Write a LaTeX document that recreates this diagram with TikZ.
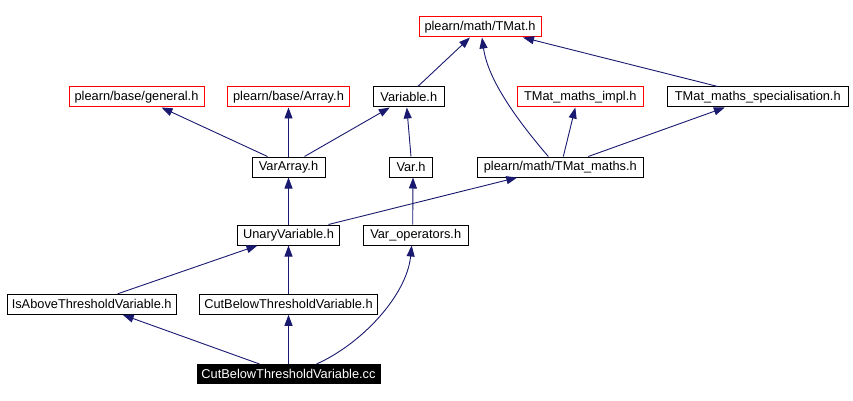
\documentclass[tikz,border=0pt]{standalone}
\usepackage{fontspec}
\setmainfont{Liberation Sans}
\usetikzlibrary{arrows.meta}
\definecolor{edgeblue}{RGB}{25,25,112}
\tikzset{
  box/.style={draw=black, line width=1pt, rectangle, inner sep=0pt, minimum height=20pt, font=\fontsize{12.8}{14}\selectfont},
  redbox/.style={box, draw=red},
  rootbox/.style={box, fill=black, text=white, minimum height=19pt},
  dep/.style={draw=edgeblue, line width=0.9pt, -{Triangle[length=11pt, width=8pt]}}
}
\begin{document}
\begin{tikzpicture}[x=1pt, y=-1pt]
\useasboundingbox (0,0) rectangle (853,401);
\node[redbox, minimum width=122pt] (tmat) at (480,27) {plearn/math/TMat.h};
\node[redbox, minimum width=135pt] (gen) at (136.5,97) {plearn/base/general.h};
\node[redbox, minimum width=122pt] (arr) at (288.5,97) {plearn/base/Array.h};
\node[box, minimum width=71pt] (variable) at (408.8,97) {Variable.h};
\node[redbox, minimum width=126pt] (impl) at (580.3,97) {TMat\_maths\_impl.h};
\node[box, minimum width=181pt] (spec) at (757.8,97) {TMat\_maths\_specialisation.h};
\node[box, minimum width=73pt] (vararr) at (288.5,167) {VarArray.h};
\node[box, minimum width=43pt] (varh) at (411,167) {Var.h};
\node[box, minimum width=166pt] (maths) at (560.3,167) {plearn/math/TMat\_maths.h};
\node[box, minimum width=102pt] (unary) at (288.5,235) {UnaryVariable.h};
\node[box, minimum width=105pt] (varops) at (415.7,235) {Var\_operators.h};
\node[box, minimum width=169pt] (isabove) at (91.7,304.3) {IsAboveThresholdVariable.h};
\node[box, minimum width=178pt] (cbh) at (288.5,304.3) {CutBelowThresholdVariable.h};
\node[rootbox, minimum width=183pt] (cc) at (288.5,374) {CutBelowThresholdVariable.cc};

\draw[dep] ([xshift=9pt]variable.north) -- ([xshift=-10pt]tmat.south);
\draw[dep] ([xshift=-12pt]maths.north) .. controls +(-30,-35) and +(6,43) .. ([xshift=2pt]tmat.south);
\draw[dep] ([xshift=-40pt]spec.north) -- ([xshift=43pt]tmat.south);
\draw[dep] ([xshift=3pt]maths.north) -- ([xshift=-5pt]impl.south);
\draw[dep] ([xshift=28pt]maths.north) -- ([xshift=-33pt]spec.south);
\draw[dep] ([xshift=-21pt]vararr.north) -- ([xshift=25pt]gen.south);
\draw[dep] (vararr.north) -- (arr.south);
\draw[dep] ([xshift=16pt]vararr.north) -- ([xshift=-19pt]variable.south);
\draw[dep] (varh.north) -- ([xshift=-2pt]variable.south);
\draw[dep] (unary.north) -- (vararr.south);
\draw[dep] ([xshift=40pt]unary.north) -- ([xshift=-43pt]maths.south);
\draw[dep] ([xshift=-3pt]varops.north) -- ([xshift=2pt]varh.south);
\draw[dep] ([xshift=26pt]isabove.north) -- ([xshift=-31pt]unary.south);
\draw[dep] (cbh.north) -- (unary.south);
\draw[dep] ([xshift=-29pt]cc.north) -- ([xshift=31pt]isabove.south);
\draw[dep] (cc.north) -- (cbh.south);
\draw[dep] ([xshift=28pt]cc.north) .. controls +(45,-20) and +(-5,50) .. ([xshift=-4pt]varops.south);
\end{tikzpicture}
\end{document}
